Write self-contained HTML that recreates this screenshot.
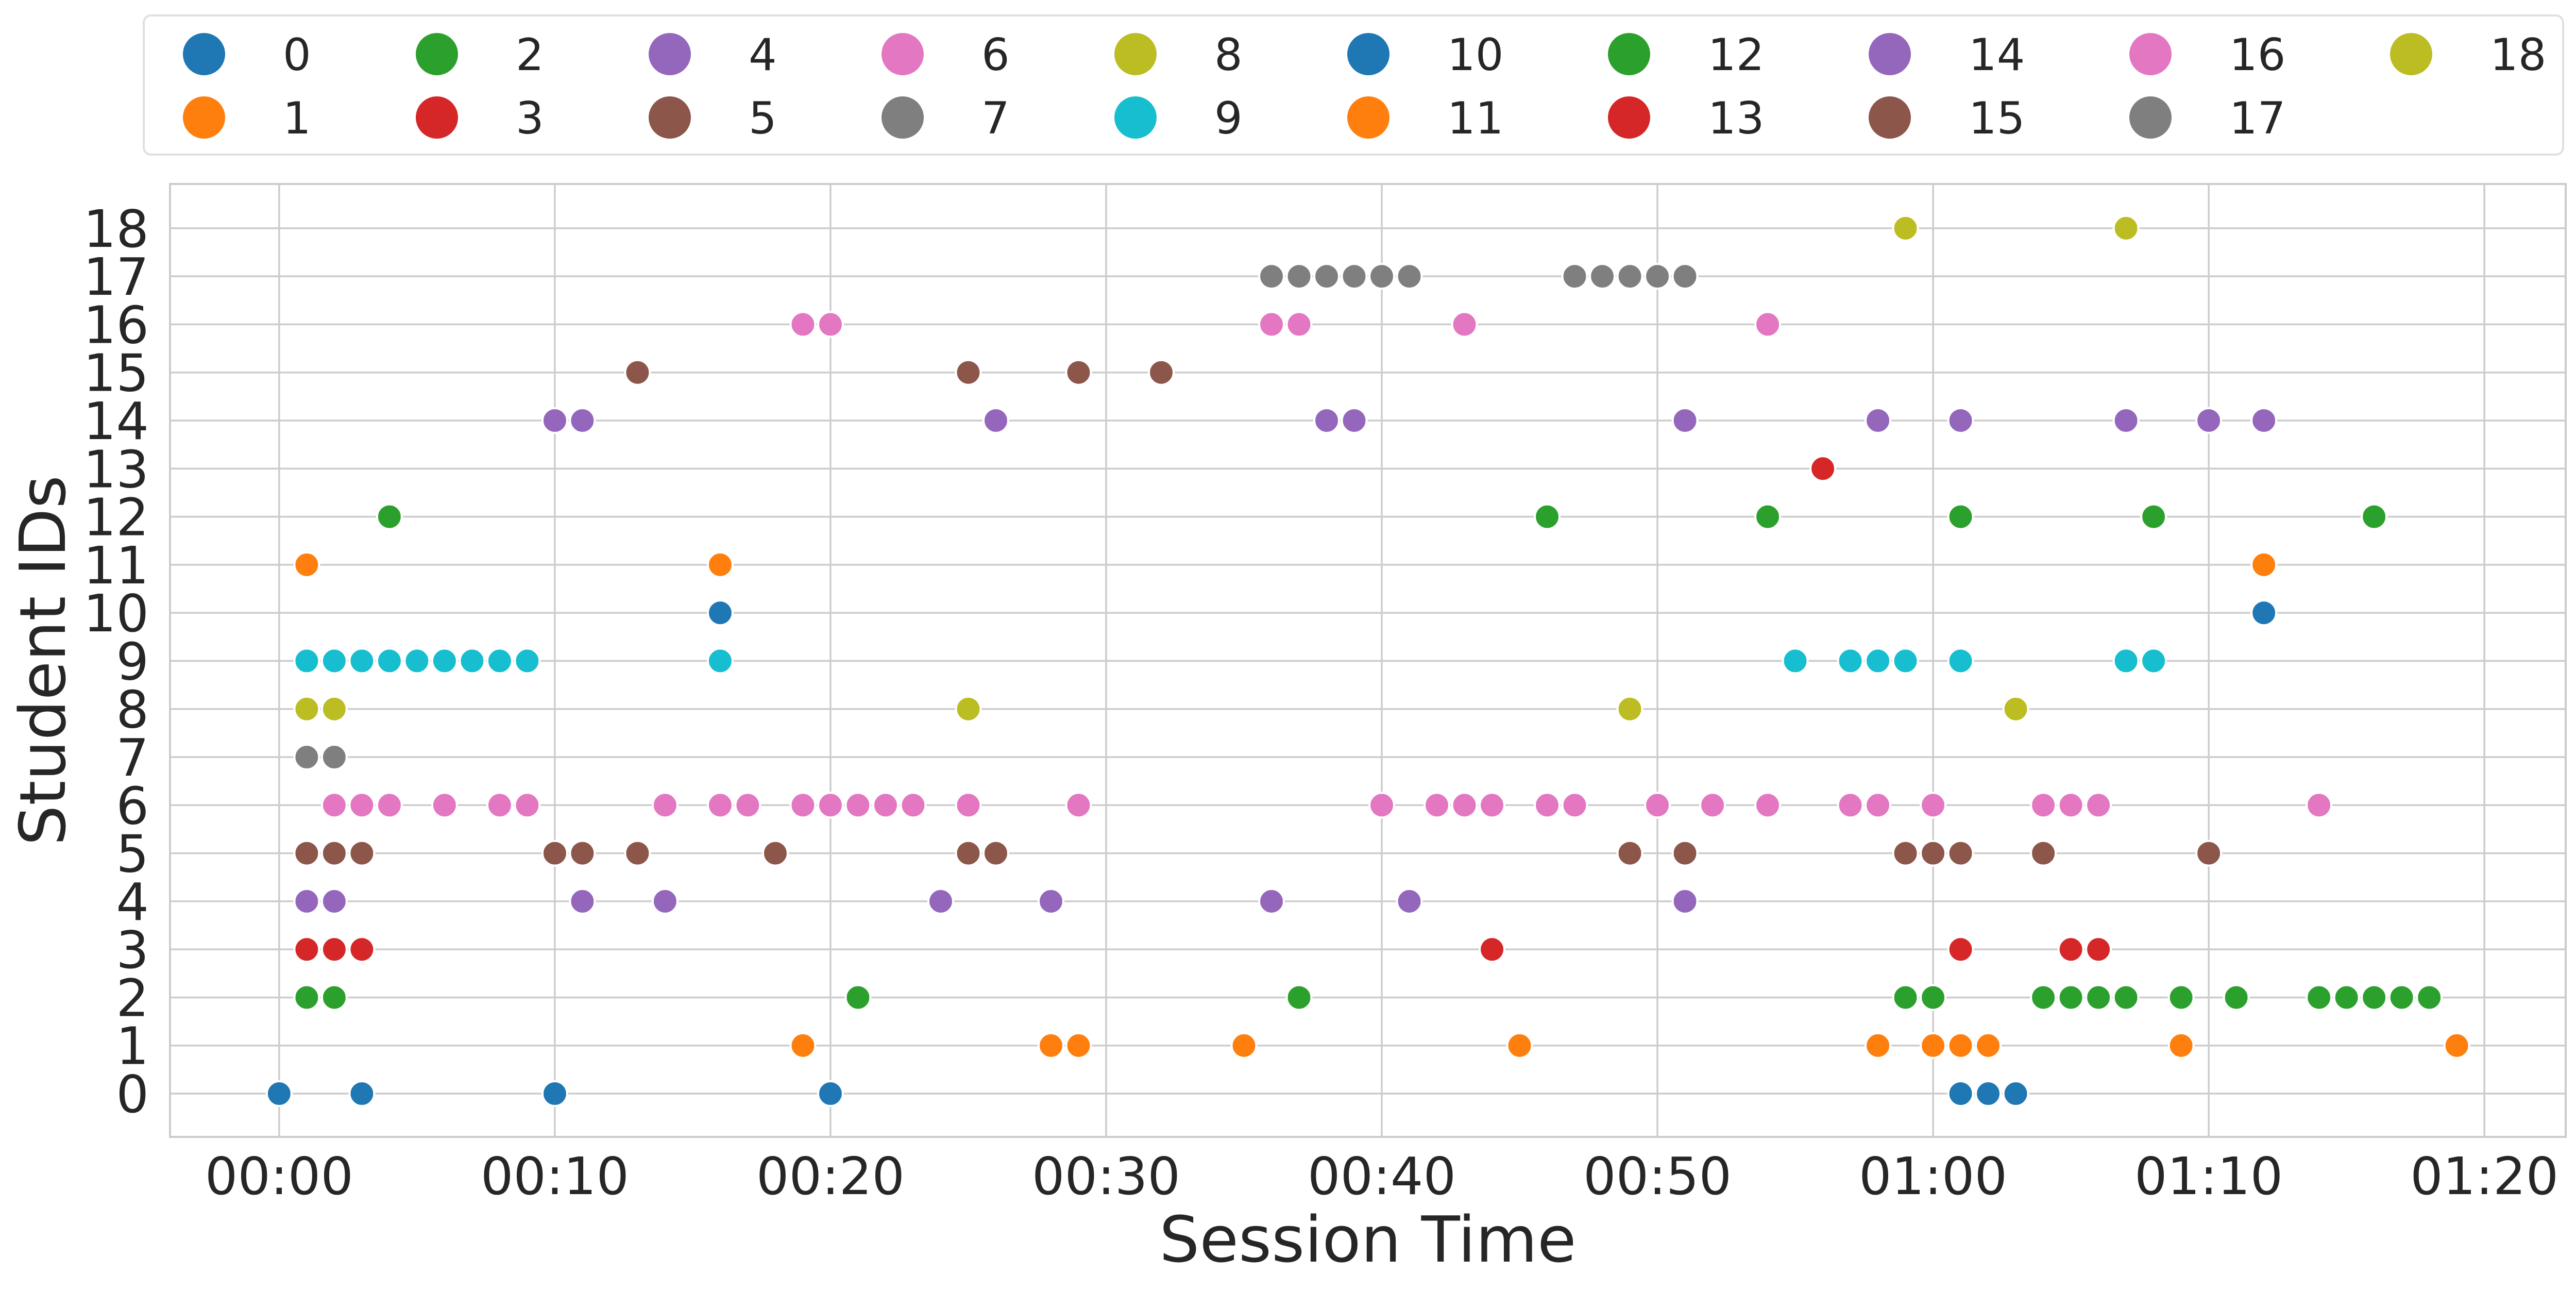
<!DOCTYPE html>
<html><head><meta charset="utf-8">
<style>
html,body{margin:0;padding:0;background:#fff;}
svg{display:block;font-family:"DejaVu Sans","Liberation Sans",sans-serif;}
</style></head>
<body>
<svg id="chart" width="5009" height="2505" viewBox="0 0 5009 2505" xmlns="http://www.w3.org/2000/svg">
<rect x="0" y="0" width="5009" height="2505" fill="#fff"/>
<g id="grid"></g>
<g id="marks"></g>
<g id="axes"></g>
<g id="legend"></g>
</svg>
<script>
const studentIds = [0,1,2,3,4,5,6,7,8,9,10,11,12,13,14,15,16,17,18];
const colors = ["#1f77b4","#ff7f0e","#2ca02c","#d62728","#9467bd","#8c564b","#e377c2","#7f7f7f","#bcbd22","#17becf"];
const xTickMinutes = [0,10,20,30,40,50,60,70,80];
const xTickLabels = ["00:00","00:10","00:20","00:30","00:40","00:50","01:00","01:10","01:20"];
const s0 = [0,3,10,20,61,62,63];
const s1 = [19,28,29,35,45,58,60,61,62,69,79];
const s2 = [1,2,21,37,59,60,64,65,66,67,69,71,74,75,76,77,78];
const s3 = [1,2,3,44,61,65,66];
const s4 = [1,2,11,14,24,28,36,41,51];
const s5 = [1,2,3,10,11,13,18,25,26,49,51,59,60,61,64,70];
const s6 = [2,3,4,6,8,9,14,16,17,19,20,21,22,23,25,29,40,42,43,44,46,47,50,52,54,57,58,60,64,65,66,74];
const s7 = [1,2];
const s8 = [1,2,25,49,63];
const s9 = [1,2,3,4,5,6,7,8,9,16,55,57,58,59,61,67,68];
const s10 = [16,72];
const s11 = [1,16,72];
const s12 = [4,46,54,61,68,76];
const s13 = [56];
const s14 = [10,11,26,38,39,51,58,61,67,70,72];
const s15 = [13,25,29,32];
const s16 = [19,20,36,37,43,54];
const s17 = [36,37,38,39,40,41,47,48,49,50,51];
const s18 = [59,67];
const seriesMinutes = [s0,s1,s2,s3,s4,s5,s6,s7,s8,s9,s10,s11,s12,s13,s14,s15,s16,s17,s18];

const NS = "http://www.w3.org/2000/svg";
const L=330, R=4980, T=357, B=2206;
const xMin=-3.96, xMax=82.95, yMin=-0.9, yMax=18.92;
function xs(v){return L+(v-xMin)/(xMax-xMin)*(R-L);}
function ys(v){return B-(v-yMin)/(yMax-yMin)*(B-T);}
function mk(tag, attrs, parent){const e=document.createElementNS(NS,tag);for(const k in attrs)e.setAttribute(k,attrs[k]);parent.appendChild(e);return e;}

const grid=document.getElementById('grid');
xTickMinutes.forEach((m,i)=>{
  const l=mk('line',{x1:xs(m),x2:xs(m),y1:T,y2:B,stroke:'#cccccc','stroke-width':3.5},grid);
  
  
});
studentIds.forEach(v=>{
  const l=mk('line',{x1:L,x2:R,y1:ys(v),y2:ys(v),stroke:'#cccccc','stroke-width':3.5},grid);
  
  
});

const marks=document.getElementById('marks');
seriesMinutes.forEach((arr,sid)=>{
  arr.forEach(m=>{
    const c=mk('circle',{cx:xs(m),cy:ys(studentIds[sid]),r:24,fill:colors[sid%10],stroke:'#ffffff','stroke-width':4},marks);
    
    
  });
});

const axes=document.getElementById('axes');
const frame=mk('rect',{x:L,y:T,width:R-L,height:B-T,fill:'none',stroke:'#cccccc','stroke-width':4},axes);


studentIds.forEach(v=>{
  const t=mk('text',{x:289,y:ys(v)+36,'text-anchor':'end','font-size':100,fill:'#262626'},axes);
  t.textContent=String(v);
  
  
});
xTickMinutes.forEach((m,i)=>{
  const t=mk('text',{x:xs(m),y:2317,'text-anchor':'middle','font-size':100,fill:'#262626'},axes);
  t.textContent=xTickLabels[i];
  
  
});
const xt=mk('text',{x:(L+R)/2,y:2448,'text-anchor':'middle','font-size':123,fill:'#262626'},axes);
xt.textContent='Session Time';


const yt=mk('text',{x:0,y:0,'text-anchor':'middle','font-size':123,fill:'#262626',transform:'translate(126,'+((T+B)/2)+') rotate(-90)'},axes);
yt.textContent='Student IDs';



const legend=document.getElementById('legend');
const box=mk('rect',{x:279,y:30,width:4696,height:270,rx:14,fill:'#fff',stroke:'#e0e0e0','stroke-width':4},legend);


const colX=[396,848,1300,1752,2204,2656,3162,3668,4174,4680];
studentIds.forEach((sid,i)=>{
  const col=Math.floor(i/2), row=i%2;
  const cx=colX[col], cy=row===0?105:228;
  const g=mk('g',{},legend);
  
  
  mk('circle',{cx:cx,cy:cy,r:41,fill:colors[sid%10]},g);
  const t=mk('text',{x:cx+153,y:cy+31,'font-size':86,fill:'#262626'},g);
  t.textContent=String(sid);
});
</script>
</body></html>
